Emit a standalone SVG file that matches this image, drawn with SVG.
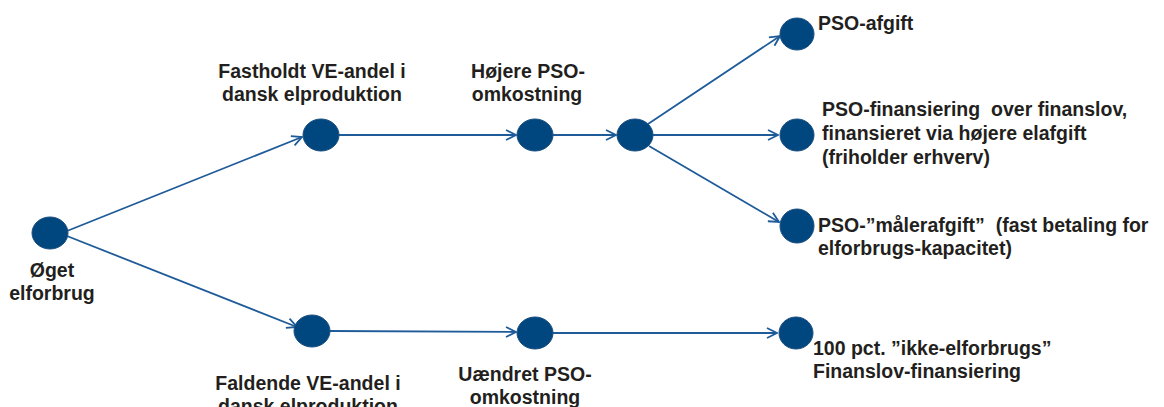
<svg xmlns="http://www.w3.org/2000/svg" width="1164" height="407" viewBox="0 0 1164 407">
<style>
.n{fill:#00467f;stroke:#1b4f80;stroke-width:1}
.c{stroke:#1f5b98;stroke-width:1.8;fill:none;marker-end:url(#a)}
text{font-family:"Liberation Sans",Arial,sans-serif;font-weight:bold;font-size:19.5px;fill:#231f20}
.m{text-anchor:middle}
</style>
<defs>
<marker id="a" viewBox="0 0 12 12" refX="11" refY="6" markerWidth="12" markerHeight="12" markerUnits="userSpaceOnUse" orient="auto">
<path d="M1,1 L11,6 L1,11" fill="none" stroke="#1f5b98" stroke-width="1.8"/>
</marker>
</defs>
<rect width="1164" height="407" fill="#fff"/>
<g id="connectors">
<line class="c" x1="67" y1="231" x2="302" y2="137"/>
<line class="c" x1="67" y1="236" x2="297" y2="327"/>
<line class="c" x1="339" y1="135" x2="516" y2="135"/>
<line class="c" x1="553" y1="135" x2="616" y2="135"/>
<line class="c" x1="648" y1="124" x2="780" y2="36"/>
<line class="c" x1="653" y1="135" x2="778" y2="135"/>
<line class="c" x1="649" y1="146" x2="779" y2="222"/>
<line class="c" x1="330" y1="331" x2="516" y2="332"/>
<line class="c" x1="553" y1="333" x2="777" y2="333"/>
</g>
<g id="root"><ellipse class="n" cx="50" cy="233" rx="18" ry="16"/><text class="m" x="52" y="277">Øget</text><text class="m" x="52" y="300">elforbrug</text></g>
<g id="fastholdt"><ellipse class="n" cx="321" cy="135" rx="18" ry="16"/><text class="m" x="312" y="78">Fastholdt VE-andel i</text><text class="m" x="312" y="101">dansk elproduktion</text></g>
<g id="hojere"><ellipse class="n" cx="535" cy="135" rx="18" ry="16"/><text class="m" x="528" y="78">Højere PSO-</text><text class="m" x="527" y="101">omkostning</text></g>
<g id="branch"><ellipse class="n" cx="635" cy="135" rx="18" ry="16"/></g>
<g id="pso-afgift"><ellipse class="n" cx="797" cy="34" rx="17" ry="16"/><text x="818" y="30">PSO-afgift</text></g>
<g id="pso-fin"><ellipse class="n" cx="797" cy="135" rx="17" ry="16"/><text x="822" y="116" xml:space="preserve">PSO-finansiering  over finanslov,</text><text x="822" y="140">finansieret via højere elafgift</text><text x="822" y="164">(friholder erhverv)</text></g>
<g id="pso-maaler"><ellipse class="n" cx="797" cy="226" rx="17" ry="17"/><text x="818" y="232" xml:space="preserve">PSO-”målerafgift”  (fast betaling for</text><text x="818" y="255">elforbrugs-kapacitet)</text></g>
<g id="faldende"><ellipse class="n" cx="312" cy="331" rx="18" ry="16"/><text class="m" x="308" y="390">Faldende VE-andel i</text><text class="m" x="308" y="413">dansk elproduktion</text></g>
<g id="uaendret"><ellipse class="n" cx="535" cy="333" rx="18" ry="16"/><text class="m" x="525" y="381">Uændret PSO-</text><text class="m" x="525" y="404">omkostning</text></g>
<g id="ikke-elforbrug"><ellipse class="n" cx="796" cy="333" rx="17" ry="16"/><text x="813" y="355">100 pct. ”ikke-elforbrugs”</text><text x="813" y="378">Finanslov-finansiering</text></g>
</svg>
